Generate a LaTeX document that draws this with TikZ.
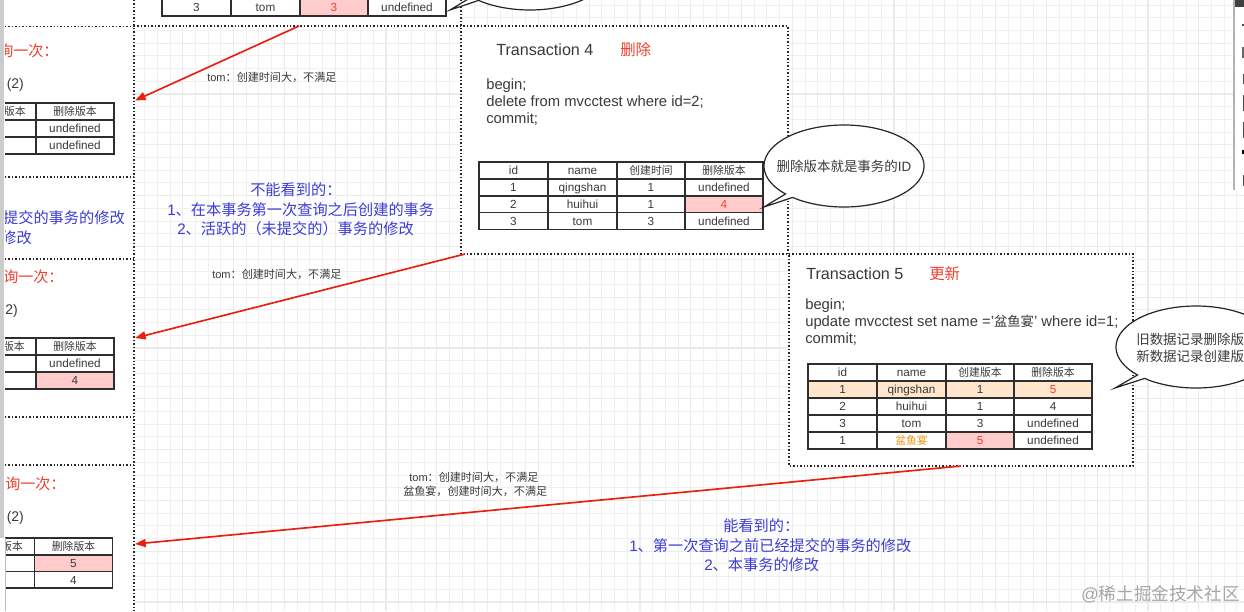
\documentclass[tikz,border=0pt]{standalone}
\usepackage{fontspec}
\setmainfont{Liberation Sans}
\newfontfamily\cjkf{Noto Sans CJK SC}
\usetikzlibrary{arrows.meta}
\newcommand\zh[1]{{\cjkf #1}}
\newcommand\zs[1]{{\cjkf\fontsize{8.1}{10}\selectfont #1}}
\definecolor{ink}{HTML}{3A3A3A}
\definecolor{zred}{HTML}{EE4030}
\definecolor{zblue}{HTML}{3C3CD6}
\definecolor{arrowred}{HTML}{E8200F}
\definecolor{pinkc}{HTML}{FFCCCC}
\definecolor{peach}{HTML}{FFE6CC}
\definecolor{orng}{HTML}{F0920A}
\tikzset{
  gridminor/.style={draw=black!6,line width=.75pt},
  gridmajor/.style={draw=black!8,line width=.9pt},
  dotline/.style={draw=black!85,line width=1.1pt,dash pattern=on 1.1pt off 1.5pt},
  tline/.style={draw=black!82,line width=1.05pt,text=ink},
  celltext/.style={font=\fontsize{8.8}{10}\selectfont,inner sep=0pt,text height=1.5ex,text depth=.25ex},
  bubbleline/.style={draw=black!85,line width=.9pt,fill=white},
  redarrow/.style={draw=arrowred,line width=1.25pt,-{Triangle[length=8pt,width=6pt]}},
  title/.style={font=\fontsize{12.1}{14}\selectfont,text=ink,anchor=west,inner sep=0pt},
  headred/.style={font=\fontsize{11.6}{14}\selectfont,text=zred,anchor=west,inner sep=0pt},
  sql/.style={font=\fontsize{11.1}{12.75}\selectfont,text=ink,anchor=north west,align=left,inner sep=0pt},
  lefthead/.style={font=\fontsize{11.3}{14}\selectfont,text=zred,anchor=west,inner sep=0pt},
  arg/.style={font=\fontsize{10.5}{13}\selectfont,text=ink,anchor=west,inner sep=0pt},
  note/.style={font=\fontsize{8.3}{10.5}\selectfont,text=ink,inner sep=0pt},
  bluetxt/.style={font=\fontsize{11.4}{14}\selectfont,text=zblue,inner sep=0pt},
  saytxt/.style={font=\fontsize{10.1}{12.75}\selectfont,text=ink,inner sep=0pt,align=left},
}
\newcommand\tcell[6][]{\draw[tline,#1] (#3) rectangle (#4) node[midway,celltext] (#2) {#6};}
\newcommand\setcols[5]{\def\xa{#1}\def\xb{#2}\def\xc{#3}\def\xd{#4}\def\xe{#5}}
\newcommand\setrow[2]{\def\ya{#1}\def\yb{#2}}
\newcommand\trow[9]{%
  \tcell[#2]{#1a}{\xa,\ya}{\xb,\yb}{}{#3}
  \tcell[#4]{#1b}{\xb,\ya}{\xc,\yb}{}{#5}
  \tcell[#6]{#1c}{\xc,\ya}{\xd,\yb}{}{#7}
  \tcell[#8]{#1d}{\xd,\ya}{\xe,\yb}{}{#9}}
\newcommand\bubble[8]{\draw[bubbleline] plot[domain=#5:#6,samples=120] ({#1+#3*cos(\x)},{#2+#4*sin(\x)}) -- (#7,#8) -- cycle;}
\begin{document}
\begin{tikzpicture}[x=.75pt,y=.75pt,yscale=-1]
\useasboundingbox (0,0) rectangle (1244,611);
\clip (0,0) rectangle (1244,611);
\fill[white] (0,0) rectangle (1244,611);
% grid
\foreach \i in {8,...,95} \draw[gridminor] ({30.3+12.7*\i},0) -- ({30.3+12.7*\i},611);
\foreach \i in {-3,...,45} \draw[gridminor] (134,{43.2+12.7*\i}) -- (1244,{43.2+12.7*\i});
\foreach \i in {2,...,24} \draw[gridmajor] ({30.3+50.8*\i},0) -- ({30.3+50.8*\i},611);
\foreach \i in {0,...,11} \draw[gridmajor] (134,{43.2+50.8*\i}) -- (1244,{43.2+50.8*\i});
% white panels
\fill[white] (0,0) rectangle (134,611);
\fill[white] (134,0) rectangle (461,26);
\fill[white] (461,26) rectangle (788,254);
\fill[white] (789,254) rectangle (1133,466);
% dotted frames
\draw[dotline] (134,0) -- (134,611);
\draw[dotline] (461,0) -- (461,254) -- (789,254);
\draw[dotline] (134,26) -- (788,26) -- (788,254);
\draw[dotline] (789,254) -- (1133,254) -- (1133,466) -- (789,466) -- cycle;
\foreach \yy in {26.5,177,259,417,465} \draw[dotline] (5,\yy) -- (134,\yy);
% top table
\setcols{162}{231}{300}{368}{446}
\setrow{-1}{16}
\trow{tt}{}{3}{}{tom}{fill=pinkc,text=zred}{3}{}{undefined}
\bubble{530}{-31}{80}{41}{130}{-223}{450}{10}
% transaction 4
\node[title] (t4) at (496,50) {Transaction 4};
\node[headred] (t4h) at (620,50) {\zh{删除}};
\node[sql] (t4s) at (486,78.5) {begin;\\delete from mvcctest where id=2;\\commit;};
\setcols{479}{548}{617}{685}{763}
\setrow{162}{179}\trow{fh}{}{id}{}{name}{}{\zs{创建时间}}{}{\zs{删除版本}}
\setrow{179}{196}\trow{fa}{}{1}{}{qingshan}{}{1}{}{undefined}
\setrow{196}{212.5}\trow{fb}{}{2}{}{huihui}{}{1}{fill=pinkc,text=zred}{4}
\setrow{212.5}{229.5}\trow{fc}{}{3}{}{tom}{}{3}{}{undefined}
\bubble{844}{166}{80}{41}{130}{-223}{764}{207}
\node[saytxt] (say4) at (844,166) {\zh{删除版本就是事务的}ID};
% transaction 5
\node[title] (t5) at (806,274) {Transaction 5};
\node[headred] (t5h) at (929,274) {\zh{更新}};
\node[sql] (t5s) at (805,298.5) {begin;\\update mvcctest set name ='{\cjkf\fontsize{10}{12.75}\selectfont 盆鱼宴}' where id=1;\\commit;};
\setcols{808}{877}{946}{1014}{1092}
\setrow{364}{381}\trow{vh}{}{id}{}{name}{}{\zs{创建版本}}{}{\zs{删除版本}}
\setrow{381}{398}\trow{va}{fill=peach}{1}{fill=peach}{qingshan}{fill=peach}{1}{fill=peach,text=zred}{5}
\setrow{398}{415}\trow{vb}{}{2}{}{huihui}{}{1}{}{4}
\setrow{415}{432}\trow{vc}{}{3}{}{tom}{}{3}{}{undefined}
\setrow{432}{449}\trow{vd}{}{1}{text=orng}{\zs{盆鱼宴}}{fill=pinkc,text=zred}{5}{}{undefined}
\bubble{1196}{347}{80}{41}{130}{-223}{1115}{388}
\node[saytxt,anchor=west] (say5) at (1136,347.5) {\zh{旧数据记录删除版}\\\zh{新数据记录创建版}};
% left tables
\tcell{la}{-33,103}{36,120}{}{}
\tcell{lb}{36,103}{114,120}{}{\zs{删除版本}}
\tcell{lc}{-33,120}{36,137}{}{}
\tcell{ld}{36,120}{114,137}{}{undefined}
\tcell{le}{-33,137}{36,154}{}{}
\tcell{lf}{36,137}{114,154}{}{undefined}
\node[celltext,text=ink] (lav) at (15,111.5) {\zs{版本}};
\tcell{ma}{-33,338}{36,355}{}{}
\tcell{mb}{36,338}{114,355}{}{\zs{删除版本}}
\tcell{mc}{-33,355}{36,372}{}{}
\tcell{md}{36,355}{114,372}{}{undefined}
\tcell{me}{-33,372}{36,389}{}{}
\tcell[fill=pinkc]{mf}{36,372}{114,389}{}{4}
\node[celltext,text=ink] (mav) at (14,346.5) {\zs{版本}};
\tcell{na}{-34.5,538}{34.5,555}{}{}
\tcell{nb}{34.5,538}{112.5,555}{}{\zs{删除版本}}
\tcell{nc}{-34.5,555}{34.5,571.5}{}{}
\tcell[fill=pinkc]{nd}{34.5,555}{112.5,571.5}{}{5}
\tcell{ne}{-34.5,571.5}{34.5,588}{}{}
\tcell{nf}{34.5,571.5}{112.5,588}{}{4}
\node[celltext,text=ink] (nav) at (12,546.5) {\zs{版本}};
% left texts
\node[lefthead] (q1) at (-2,51) {\zh{询一次：}};
\node[arg] (a1) at (6.5,85) {(2)};
\node[lefthead] (q2) at (3,277) {\zh{询一次：}};
\node[arg] (a2) at (0.5,311) {(2)};
\node[lefthead] (q3) at (5,484) {\zh{询一次：}};
\node[arg] (a3) at (6.5,518) {(2)};
\node[bluetxt,anchor=east] (lb1) at (125,218) {\zh{提交的事务的修改}};
\node[bluetxt,anchor=east] (lb2) at (32,238) {\zh{修改}};
% cover at left edge
\fill[white] (0,0) rectangle (5,611);
\fill[black!20] (0,0) rectangle (4,538);
\draw[black!25,line width=.5pt] (5,538) -- (5,611);
% blue notes
\node[bluetxt,anchor=west] (nb1) at (250,190) {\zh{不能看到的：}};
\node[bluetxt,anchor=west] (nb2) at (167,210) {1\zh{、在本事务第一次查询之后创建的事务}};
\node[bluetxt,anchor=west] (nb3) at (177,229) {2\zh{、活跃的（未提交的）事务的修改}};
\node[bluetxt,anchor=west] (cb1) at (723,526) {\zh{能看到的：}};
\node[bluetxt,anchor=west] (cb2) at (629,546) {1\zh{、第一次查询之前已经提交的事务的修改}};
\node[bluetxt,anchor=west] (cb3) at (704,565) {2\zh{、本事务的修改}};
% arrows
\coordinate (s1) at (299,26);
\coordinate (e1) at (135,100.5);
\coordinate (s2) at (465,254);
\coordinate (e2) at (135,338);
\coordinate (s3) at (961,466);
\coordinate (e3) at (135,544);
\draw[redarrow] (s1) -- (e1);
\draw[redarrow] (s2) -- (e2);
\draw[redarrow] (s3) -- (e3);
% arrow notes
\node[note,anchor=west] (n1) at (207,77) {tom\zh{：创建时间大，不满足}};
\node[note,anchor=west] (n2) at (212,274) {tom\zh{：创建时间大，不满足}};
\node[note,anchor=west] (n3) at (409,477) {tom\zh{：创建时间大，不满足}};
\node[note,anchor=west] (n4) at (403,491) {\zh{盆鱼宴，创建时间大，不满足}};
% watermark
\node[font=\fontsize{13.2}{15}\selectfont,text=black!35,anchor=east,inner sep=0pt] (wm) at (1240,594) {@\zh{稀土掘金技术社区}};
% right panel
\fill[white] (1234,0) rectangle (1244,190);
\fill[black!75] (1234,0) rectangle (1244,7);
\draw[black!30,line width=1pt] (1234,0) -- (1234,190);
\fill[black!70] (1242,24) rectangle (1244,26);
\fill[black!60] (1242,47) rectangle (1244,58);
\draw[black!70,line width=.7pt] (1243,74) -- (1244,74) (1243,74) -- (1243,84);
\draw[black!70,line width=.7pt] (1243,95) -- (1243,111);
\draw[black!70,line width=.7pt] (1243,122) -- (1243,138);
\fill[black] (1242,150) rectangle (1244,154);
\draw[black!70,line width=.7pt] (1243,175) -- (1243,186);
\end{tikzpicture}
\end{document}
